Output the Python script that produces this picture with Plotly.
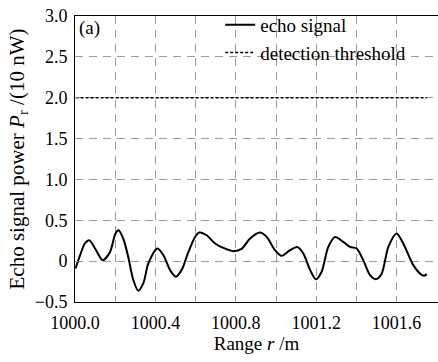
import plotly.graph_objects as go

# Echo signal (range in m, power in units of 10 nW)
r = [1000.003, 1000.025, 1000.05, 1000.071, 1000.1, 1000.138, 1000.174, 1000.2, 1000.216,
     1000.24, 1000.265, 1000.29, 1000.315, 1000.34, 1000.365, 1000.41, 1000.44, 1000.473,
     1000.502, 1000.53, 1000.564, 1000.597, 1000.618, 1000.655, 1000.697, 1000.738, 1000.788,
     1000.829, 1000.871, 1000.92, 1000.954, 1000.995, 1001.028, 1001.07, 1001.106, 1001.136,
     1001.17, 1001.199, 1001.227, 1001.26, 1001.294, 1001.335, 1001.368, 1001.401, 1001.434,
     1001.468, 1001.498, 1001.526, 1001.559, 1001.6, 1001.633, 1001.683, 1001.716, 1001.736,
     1001.75]
power = [-0.09, 0.07, 0.22, 0.256, 0.155, 0.012, 0.11, 0.33, 0.378,
         0.277, 0.05, -0.23, -0.362, -0.27, -0.028, 0.155, 0.073, -0.11,
         -0.19, -0.11, 0.11, 0.296, 0.35, 0.317, 0.216, 0.162, 0.122,
         0.15, 0.277, 0.35, 0.296, 0.134, 0.065, 0.134, 0.174, 0.094,
         -0.11, -0.223, -0.13, 0.174, 0.296, 0.235, 0.174, 0.155, 0.012,
         -0.171, -0.22, -0.15, 0.174, 0.338, 0.216, -0.049, -0.15, -0.179,
         -0.159]

threshold_r = [1000.003, 1001.75]
threshold_p = [2.0, 2.0]

x_tickvals = [1000.0, 1000.2, 1000.4, 1000.6, 1000.8, 1001.0, 1001.2, 1001.4, 1001.6]
x_ticktext = ["1000.0", "", "1000.4", "", "1000.8", "", "1001.2", "", "1001.6"]
y_tickvals = [-0.5, 0, 0.5, 1.0, 1.5, 2.0, 2.5, 3.0]
y_ticktext = ["\u22120.5", "0", "0.5", "1.0", "1.5", "2.0", "2.5", "3.0"]

FONT = "Liberation Serif"
FS = 18

fig = go.Figure()
fig.add_trace(go.Scatter(x=r, y=power, mode="lines", name="echo signal",
                         line=dict(color="black", width=2, shape="spline", smoothing=0.8)))
fig.add_trace(go.Scatter(x=threshold_r, y=threshold_p, mode="lines", name="detection threshold",
                         line=dict(color="black", width=1.5, dash="3px,2px")))

axis_common = dict(showline=True, linecolor="black", linewidth=1,
                   showgrid=True, gridcolor="#9a9a9a", griddash="8px,6px", gridwidth=1,
                   zeroline=False, ticks="inside", ticklen=3, tickcolor="#9a9a9a",
                   tickfont=dict(family=FONT, size=FS, color="black"))

fig.update_layout(
    width=438, height=362,
    margin=dict(l=75, r=0, t=16, b=60),
    paper_bgcolor="white", plot_bgcolor="white",
    font=dict(family=FONT, color="black"),
    showlegend=True,
    legend=dict(x=0.40, y=1.035, xanchor="left", yanchor="top",
                bgcolor="rgba(0,0,0,0)", font=dict(family=FONT, size=19),
                itemwidth=30, tracegroupgap=0),
    xaxis=dict(range=[1000.0, 1001.806], tickvals=x_tickvals, ticktext=x_ticktext,
               ticklabelstandoff=4, mirror=True,
               title=dict(text="Range <i>r</i> /m", font=dict(family=FONT, size=19), standoff=2),
               **axis_common),
    yaxis=dict(range=[-0.5, 3.0], tickvals=y_tickvals, ticktext=y_ticktext,
               ticklabelstandoff=3, mirror=False,
               title=dict(text="Echo signal power <i>P</i><sub>r</sub> /(10 nW)",
                          font=dict(family=FONT, size=21), standoff=4),
               **axis_common),
    annotations=[dict(text="(a)", x=0.005, y=1.005, xref="paper", yref="paper",
                      xanchor="left", yanchor="top", showarrow=False,
                      font=dict(family=FONT, size=19))],
)

fig.write_html("out.html", config={"displayModeBar": False},
               post_script="document.body.style.margin='0px';")
